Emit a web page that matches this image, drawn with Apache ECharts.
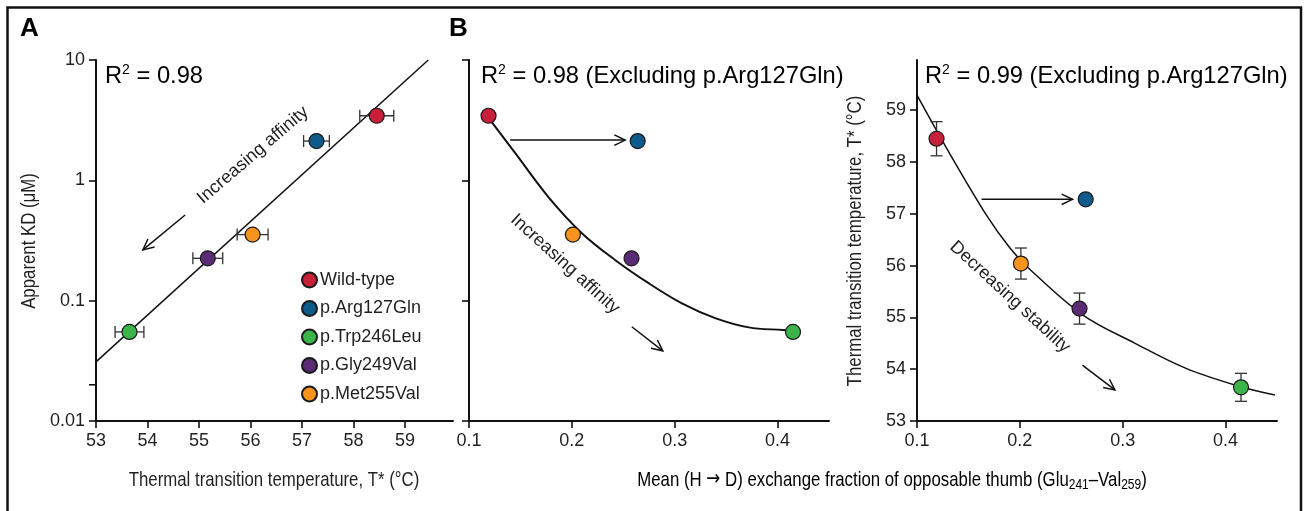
<!DOCTYPE html>
<html>
<head>
<meta charset="utf-8">
<script src="https://cdn.jsdelivr.net/npm/echarts@6/dist/echarts.min.js"></script>
<style>
  html, body { margin: 0; padding: 0; background: #fff; }
  #chart { width: 1307px; height: 511px; }
</style>
</head>
<body>
<div id="chart"></div>
<script>
// variants, in legend order
const variants = ['Wild-type', 'p.Arg127Gln', 'p.Trp246Leu', 'p.Gly249Val', 'p.Met255Val'];
const colors = ['#C8203A', '#0E5A8A', '#3BB54A', '#5A2A72', '#F7941D'];

// measured values
const tmValues = [58.45, 57.28, 53.65, 55.17, 56.04];      // T* (°C)
const tmErrors = [0.33, 0.25, 0.28, 0.29, 0.30];
const tmErrorsShownB = [0.33, null, 0.27, 0.30, 0.30];     // no bar for p.Arg127Gln
const kdValues = [3.44, 2.12, 0.055, 0.225, 0.354];         // apparent KD (µM)
const hdxValues = [0.119, 0.264, 0.415, 0.258, 0.201];      // mean H->D exchange fraction

// fitted curves
const fitKdVsTm = [[53, 0.031], [59.45, 10]];
const fitKdVsHdx = [[0.119, 3.3], [0.145, 1.68], [0.177, 0.73], [0.21, 0.362], [0.242, 0.218],
  [0.275, 0.139], [0.307, 0.095], [0.34, 0.0713], [0.372, 0.060], [0.405, 0.057], [0.414, 0.0562]];
const fitTmVsHdx = [[0.1, 59.29], [0.129, 58.26], [0.168, 56.96], [0.19, 56.35], [0.208, 55.96],
  [0.261, 55.05], [0.312, 54.5], [0.361, 54.02], [0.413, 53.67], [0.448, 53.5]];

// tick positions
const tmTicks = [53, 54, 55, 56, 57, 58, 59];
const hdxTicks = [0.1, 0.2, 0.3, 0.4];
const kdExtraTick = [[53, 0.02]];   // lone unlabelled tick on the KD axis of panel A

// annotation arrows [x1, y1, x2, y2] in data units
const arrowsA = [[54.73, 0.515, 53.91, 0.264]];
const arrowsB = [[0.140, 2.16, 0.2518, 2.16], [0.2583, 0.0607, 0.2884, 0.0383]];
const arrowsC = [[0.1627, 57.28, 0.2512, 57.28], [0.2608, 54.08, 0.2924, 53.60]];

const sansFont = 'Liberation Sans, Arial, Helvetica, sans-serif';
const ink = '#231f20';
const narrowScale = 0.8;

const chart = echarts.init(document.getElementById('chart'));

function axisStyle(extra, ticks) {
  const ax = Object.assign({
    axisLine: { show: true, onZero: false, lineStyle: { color: '#111', width: 2 } },
    axisTick: { show: true, length: 7, lineStyle: { color: '#111', width: 1.6 } },
    axisLabel: { color: ink, fontSize: 18, fontFamily: sansFont, margin: 11 },
    splitLine: { show: false }
  }, extra);
  if (ticks) {
    ax.axisTick.customValues = ticks;
    ax.axisLabel.customValues = ticks;
  }
  return ax;
}

function hErrorBar(params, api) {
  const x = api.value(0), y = api.value(1), e = api.value(2);
  const a = api.coord([x - e, y]), b = api.coord([x + e, y]);
  const st = { stroke: '#333', lineWidth: 1.3 };
  return { type: 'group', children: [
    { type: 'line', shape: { x1: a[0], y1: a[1], x2: b[0], y2: b[1] }, style: st },
    { type: 'line', shape: { x1: a[0], y1: a[1] - 6, x2: a[0], y2: a[1] + 6 }, style: st },
    { type: 'line', shape: { x1: b[0], y1: b[1] - 6, x2: b[0], y2: b[1] + 6 }, style: st }
  ] };
}

function vErrorBar(params, api) {
  const x = api.value(0), y = api.value(1), e = api.value(2);
  const a = api.coord([x, y - e]), b = api.coord([x, y + e]);
  const st = { stroke: '#333', lineWidth: 1.3 };
  return { type: 'group', children: [
    { type: 'line', shape: { x1: a[0], y1: a[1], x2: b[0], y2: b[1] }, style: st },
    { type: 'line', shape: { x1: a[0] - 6, y1: a[1], x2: a[0] + 6, y2: a[1] }, style: st },
    { type: 'line', shape: { x1: b[0] - 6, y1: b[1], x2: b[0] + 6, y2: b[1] }, style: st }
  ] };
}

function arrow(params, api) {
  const p = api.coord([api.value(0), api.value(1)]);
  const q = api.coord([api.value(2), api.value(3)]);
  const ang = Math.atan2(q[1] - p[1], q[0] - p[0]);
  const len = 12, spread = 0.45;
  const h1 = [q[0] - len * Math.cos(ang - spread), q[1] - len * Math.sin(ang - spread)];
  const h2 = [q[0] - len * Math.cos(ang + spread), q[1] - len * Math.sin(ang + spread)];
  const st = { stroke: '#111', lineWidth: 1.5, fill: null };
  return { type: 'group', children: [
    { type: 'line', shape: { x1: p[0], y1: p[1], x2: q[0], y2: q[1] }, style: st },
    { type: 'polyline', shape: { points: [h1, q, h2] }, style: st }
  ] };
}

function minorTick(params, api) {
  const p = api.coord([api.value(0), api.value(1)]);
  return { type: 'line', shape: { x1: p[0] - 7, y1: p[1], x2: p[0], y2: p[1] },
    style: { stroke: '#111', lineWidth: 1.6 } };
}

const series = [];

// error bars first so points sit on top
series.push({
  type: 'custom', xAxisIndex: 0, yAxisIndex: 0, renderItem: hErrorBar, silent: true,
  data: tmValues.map((t, i) => [t, kdValues[i], tmErrors[i]]), z: 2
});
series.push({
  type: 'custom', xAxisIndex: 2, yAxisIndex: 2, renderItem: vErrorBar, silent: true,
  data: hdxValues.map((h, i) => [h, tmValues[i], tmErrorsShownB[i]])
    .filter(d => d[2] != null), z: 2
});

// fits
series.push({ type: 'line', xAxisIndex: 0, yAxisIndex: 0, data: fitKdVsTm, showSymbol: false,
  lineStyle: { color: '#111', width: 1.5 }, silent: true, z: 1 });
series.push({ type: 'line', xAxisIndex: 1, yAxisIndex: 1, data: fitKdVsHdx, showSymbol: false,
  smooth: 0.35, lineStyle: { color: '#111', width: 2 }, silent: true, z: 1 });
series.push({ type: 'line', xAxisIndex: 2, yAxisIndex: 2, data: fitTmVsHdx, showSymbol: false,
  smooth: 0.35, lineStyle: { color: '#111', width: 1.5 }, silent: true, z: 1 });

// arrows
[[0, arrowsA], [1, arrowsB], [2, arrowsC]].forEach(([g, arr]) => {
  series.push({ type: 'custom', xAxisIndex: g, yAxisIndex: g, renderItem: arrow, silent: true,
    encode: { x: [0, 2], y: [1, 3] }, data: arr, z: 1 });
});

series.push({ type: 'custom', xAxisIndex: 0, yAxisIndex: 0, renderItem: minorTick, silent: true,
  data: kdExtraTick, z: 3 });

// points
variants.forEach((name, i) => {
  const itemStyle = { color: colors[i], borderColor: '#1a1a1a', borderWidth: 1.2, opacity: 1 };
  series.push({ name, type: 'scatter', xAxisIndex: 0, yAxisIndex: 0, symbolSize: 15,
    itemStyle, data: [[tmValues[i], kdValues[i]]], z: 5 });
  series.push({ name: name + ' B', type: 'scatter', xAxisIndex: 1, yAxisIndex: 1, symbolSize: 15,
    itemStyle, data: [[hdxValues[i], kdValues[i]]], z: 5 });
  series.push({ name: name + ' C', type: 'scatter', xAxisIndex: 2, yAxisIndex: 2, symbolSize: 15,
    itemStyle, data: [[hdxValues[i], tmValues[i]]], z: 5 });
});

const r2Rich = {
  r: { fontSize: 23.7, fontFamily: sansFont, color: ink, lineHeight: 26 },
  s: { fontSize: 14, fontFamily: sansFont, color: ink, verticalAlign: 'top', lineHeight: 26 }
};
const noteStyle = { fontSize: 18, fontFamily: sansFont, fill: ink, align: 'center', verticalAlign: 'middle' };
const titleStyle = { fontSize: 21, fontFamily: sansFont, fill: ink, align: 'center', verticalAlign: 'middle' };

const option = {
  animation: false,
  backgroundColor: '#fff',
  legend: {
    data: variants,
    orient: 'vertical',
    left: 296, top: 266,
    icon: 'circle',
    itemWidth: 15, itemHeight: 15, itemGap: 10.5,
    textStyle: { fontSize: 18, fontFamily: sansFont, color: ink, lineHeight: 18, padding: [0, 0, 0, -2] },
    selectedMode: false
  },
  grid: [
    { left: 96, top: 60, width: 357, height: 361, outerBoundsMode: 'none' },
    { left: 469, top: 60, width: 360, height: 361, outerBoundsMode: 'none' },
    { left: 917, top: 60, width: 360, height: 361, outerBoundsMode: 'none' }
  ],
  xAxis: [
    axisStyle({ gridIndex: 0, type: 'value', min: 53, max: 59.93, interval: 1 }, tmTicks),
    axisStyle({ gridIndex: 1, type: 'value', min: 0.1, max: 0.45, interval: 0.1 }, hdxTicks),
    axisStyle({ gridIndex: 2, type: 'value', min: 0.1, max: 0.45, interval: 0.1 }, hdxTicks)
  ],
  yAxis: [
    axisStyle({ gridIndex: 0, type: 'log', logBase: 10, min: 0.01, max: 10 }),
    axisStyle({ gridIndex: 1, type: 'log', logBase: 10, min: 0.01, max: 10, axisLabel: { show: false } }),
    axisStyle({ gridIndex: 2, type: 'value', min: 53, max: 59.97, interval: 1 }, tmTicks)
  ],
  series,
  graphic: [
    // frame (open at the bottom)
    { type: 'polyline', shape: { points: [[7.5, 511], [7.5, 7.5], [1301, 7.5], [1301, 511]] },
      style: { stroke: '#111', lineWidth: 2.5, fill: null } },
    { type: 'text', left: 20, top: 16, style: { text: 'A', fontSize: 26, fontWeight: 'bold', fontFamily: sansFont, fill: '#000' } },
    { type: 'text', left: 449, top: 16, style: { text: 'B', fontSize: 26, fontWeight: 'bold', fontFamily: sansFont, fill: '#000' } },
    { type: 'text', x: 105, y: 63, style: { text: '{r|R}{s|2}{r| = 0.98}', rich: r2Rich } },
    { type: 'text', x: 481, y: 63, style: { text: '{r|R}{s|2}{r| = 0.98 (Excluding p.Arg127Gln)}', rich: r2Rich } },
    { type: 'text', x: 925, y: 63, style: { text: '{r|R}{s|2}{r| = 0.99 (Excluding p.Arg127Gln)}', rich: r2Rich } },
    { type: 'text', x: 253, y: 155, rotation: 40.5 * Math.PI / 180,
      style: Object.assign({ text: 'Increasing affinity' }, noteStyle) },
    { type: 'text', x: 565, y: 264, rotation: -42 * Math.PI / 180,
      style: Object.assign({ text: 'Increasing affinity' }, noteStyle) },
    { type: 'text', x: 1010, y: 297, rotation: -42.5 * Math.PI / 180,
      style: Object.assign({ text: 'Decreasing stability' }, noteStyle) },
    // axis titles (condensed look via horizontal scaling)
    { type: 'text', x: 29, y: 241, rotation: Math.PI / 2, scaleX: narrowScale,
      style: Object.assign({ text: 'Apparent KD (\u03bcM)' }, titleStyle) },
    { type: 'text', x: 855, y: 241, rotation: Math.PI / 2, scaleX: narrowScale,
      style: Object.assign({ text: 'Thermal transition temperature, T* (\u00b0C)' }, titleStyle) },
    { type: 'text', x: 274, y: 480, scaleX: narrowScale,
      style: Object.assign({ text: 'Thermal transition temperature, T* (\u00b0C)' }, titleStyle) },
    { type: 'text', x: 892, y: 480, scaleX: narrowScale,
      style: {
        text: '{a|Mean (H }{b|\u2192}{a| D) exchange fraction of opposable thumb (Glu}{s|241}{a|\u2013Val}{s|259}{a|)}',
        align: 'center', verticalAlign: 'middle',
        rich: {
          a: { fontSize: 21, fontFamily: sansFont, color: ink, lineHeight: 24 },
          b: { fontSize: 21, fontFamily: 'DejaVu Sans', color: ink, lineHeight: 24 },
          s: { fontSize: 15, fontFamily: sansFont, color: ink, verticalAlign: 'bottom', lineHeight: 18 }
        }
      } }
  ]
};

chart.setOption(option);
window.addEventListener('resize', () => chart.resize());
</script>
</body>
</html>
